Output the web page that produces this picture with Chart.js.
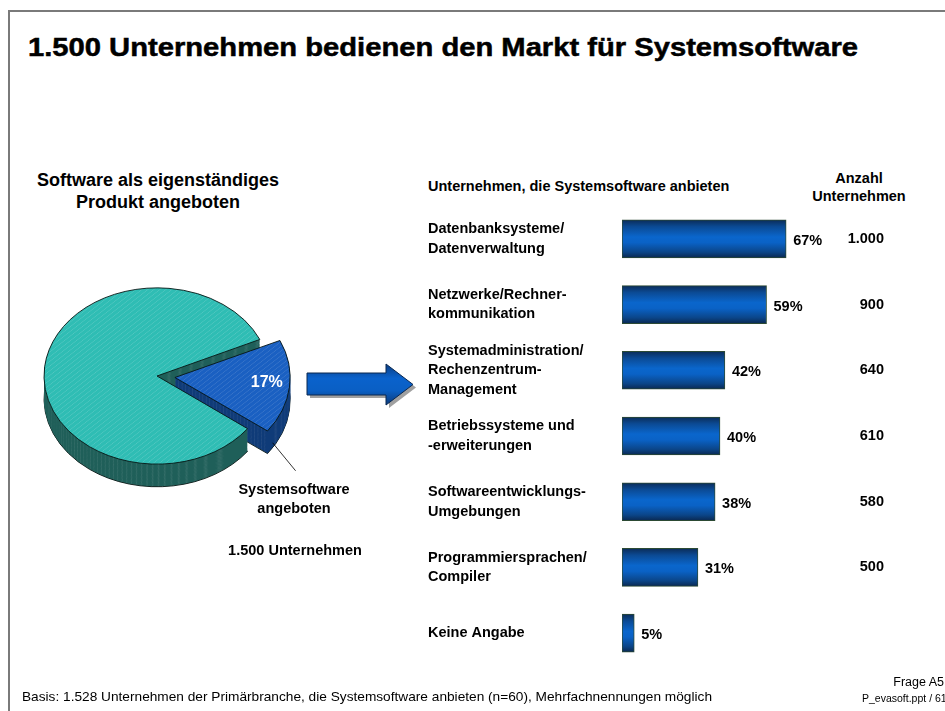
<!DOCTYPE html>
<html lang="de">
<head>
<meta charset="utf-8">
<title>Systemsoftware</title>
<script src="https://cdn.jsdelivr.net/npm/chart.js@4.4.1/dist/chart.umd.min.js"></script>
<style>
  html, body { margin: 0; padding: 0; background: #fff; }
  body { width: 945px; height: 711px; position: relative; overflow: hidden;
         font-family: "Liberation Sans", Arial, sans-serif; color: #000; }
  .frame { position: absolute; left: 8px; top: 10px; right: -10px; bottom: -10px;
           border-top: 2px solid #7a7a7a; border-left: 2px solid #7a7a7a; }
  .abs { position: absolute; white-space: nowrap; }
  #title { left: 28px; top: 32px; font-size: 26px; font-weight: bold; line-height: 30px;
           -webkit-text-stroke: 0.5px #000; transform-origin: left center; }
  #pieTitle { left: 0; width: 316px; top: 169px; text-align: center; font-size: 18px;
              font-weight: bold; line-height: 22px; }
  #barHead { left: 428px; top: 177px; font-size: 14.5px; font-weight: bold; line-height: 18px; }
  #countHead { left: 789px; width: 140px; top: 169px; text-align: center; font-size: 14.5px;
               font-weight: bold; line-height: 18px; }
  #footer { left: 22px; top: 689px; font-size: 13px; line-height: 16px; transform-origin: left center;
            font-family: "Liberation Sans Narrow", "Liberation Sans", Arial, sans-serif; }
  #frage { right: 1px; top: 675px; font-size: 12.5px; line-height: 15px; }
  #file { left: 862px; top: 692px; font-size: 10.5px; line-height: 12px;
          font-family: "Liberation Sans Narrow", "Liberation Sans", Arial, sans-serif; }
  #pieCanvasWrap { position: absolute; left: 7px; top: 226px; width: 400px; height: 350px; }
  #barCanvasWrap { position: absolute; left: 428px; top: 206px; width: 517px; height: 460px; }
  svg { position: absolute; left: 0; top: 0; }
</style>
</head>
<body>
<div class="frame"></div>
<div id="title" class="abs">1.500 Unternehmen bedienen den Markt für Systemsoftware</div>
<div id="pieTitle" class="abs">Software als eigenständiges<br>Produkt angeboten</div>
<div id="barHead" class="abs">Unternehmen, die Systemsoftware anbieten</div>
<div id="countHead" class="abs">Anzahl<br>Unternehmen</div>

<div id="pieCanvasWrap"><canvas id="pie"></canvas></div>
<div id="barCanvasWrap"><canvas id="bars"></canvas></div>

<svg width="945" height="711" viewBox="0 0 945 711">
  <defs>
    <linearGradient id="arrowGrad" x1="0" y1="0" x2="0" y2="1">
      <stop offset="0" stop-color="#0b3d82"/>
      <stop offset="0.35" stop-color="#0a62cc"/>
      <stop offset="0.65" stop-color="#0a5fc4"/>
      <stop offset="1" stop-color="#0b3a7a"/>
    </linearGradient>
  </defs>
  <path d="M310,376 L389,376 L389,367 L416,387.5 L389,408 L389,398 L310,398 Z" fill="#a0a0a0"/>
  <path d="M307,373 L386,373 L386,364 L413,384.5 L386,405 L386,395 L307,395 Z"
        fill="url(#arrowGrad)" stroke="#0a2850" stroke-width="1"/>
</svg>

<div id="footer" class="abs">Basis: 1.528 Unternehmen der Primärbranche, die Systemsoftware anbieten (n=60), Mehrfachnennungen möglich</div>
<div id="frage" class="abs">Frage A5</div>
<div id="file" class="abs">P_evasoft.ppt / 61</div>

<script>
// Daten
const pieLabels = ['', 'Systemsoftware angeboten'];
const pieValues = [83, 17];
const pieTotal = '1.500 Unternehmen';

const categories = [
  ['Datenbanksysteme/', 'Datenverwaltung'],
  ['Netzwerke/Rechner-', 'kommunikation'],
  ['Systemadministration/', 'Rechenzentrum-', 'Management'],
  ['Betriebssysteme und', '-erweiterungen'],
  ['Softwareentwicklungs-', 'Umgebungen'],
  ['Programmiersprachen/', 'Compiler'],
  ['Keine Angabe']
];
const shares = [67, 59, 42, 40, 38, 31, 5];
const counts = [1000, 900, 640, 610, 580, 500, null];

Chart.defaults.font.family = '"Liberation Sans", Arial, sans-serif';
Chart.defaults.color = '#000';

// Schrift auf Zielbreite bringen
function fitWidth(id, target) {
  const el = document.getElementById(id);
  const w = el.getBoundingClientRect().width;
  if (w > 0) el.style.transform = 'scaleX(' + (target / w) + ')';
}
fitWidth('title', 830);
fitWidth('footer', 690);

function formatCount(n) {
  if (n == null) return '';
  return String(n).replace(/\B(?=(\d{3})+(?!\d))/g, '.');
}

// Schraffur-Muster
function hatch(color, line) {
  const c = document.createElement('canvas');
  c.width = 6; c.height = 6;
  const x = c.getContext('2d');
  x.fillStyle = color;
  x.fillRect(0, 0, 6, 6);
  x.strokeStyle = line;
  x.lineWidth = 1;
  x.beginPath();
  x.moveTo(-1, 7); x.lineTo(7, -1);
  x.moveTo(-1, 1); x.lineTo(1, -1);
  x.moveTo(5, 7); x.lineTo(7, 5);
  x.stroke();
  return x.createPattern(c, 'repeat');
}

const tilt = 0.78;
const depth = 23;
const topColors = [hatch('#2fbdb4', 'rgba(255,255,255,0.16)'), hatch('#1a60c2', 'rgba(255,255,255,0.14)')];
const sideColors = [hatch('#1f5f59', 'rgba(255,255,255,0.12)'), hatch('#0f3b78', 'rgba(255,255,255,0.12)')];

// 3D-Torte: Neigung + Seitenflächen
const pie3d = {
  id: 'pie3d',
  beforeDatasetsDraw(chart) {
    const ctx = chart.ctx;
    const arcs = chart.getDatasetMeta(0).data;
    const cx = arcs[0].x, cy = arcs[0].y;
    ctx.save();
    ctx.translate(cx, cy);
    ctx.scale(1, tilt);
    ctx.translate(-cx, -cy);
    const steps = Math.round(depth / tilt);
    for (let d = steps; d > 0; d--) {
      arcs.forEach((arc, i) => {
        const fake = Object.create(arc);
        fake.options = Object.assign({}, arc.options, {
          backgroundColor: sideColors[i],
          borderColor: d === steps ? '#061412' : sideColors[i],
          borderWidth: d === steps ? 1 : 0
        });
        ctx.save();
        ctx.translate(0, d);
        arc.draw.call(fake, ctx);
        ctx.restore();
      });
    }
  },
  afterDatasetsDraw(chart) {
    chart.ctx.restore();
  },
  afterDraw(chart) {
    const ctx = chart.ctx;
    const arc = chart.getDatasetMeta(0).data[1];
    const mid = (arc.startAngle + arc.endAngle) / 2;
    const off = arc.options.offset / 4;
    const r = arc.outerRadius;
    const ox = arc.x + Math.cos(mid) * off;
    const oy = arc.y + Math.sin(mid) * off * tilt;
    ctx.save();
    // Prozentwert
    ctx.font = 'bold 16px "Liberation Sans", Arial, sans-serif';
    ctx.fillStyle = '#fff';
    ctx.textAlign = 'center';
    ctx.textBaseline = 'middle';
    ctx.fillText(pieValues[1] + '%', ox + Math.cos(mid) * r * 0.8 + 2, oy + Math.sin(mid) * r * 0.8 * tilt - 2);
    // Führungslinie
    const a = mid + 0.42;
    const sx = ox + Math.cos(a) * r;
    const sy = oy + Math.sin(a) * r * tilt + depth - 2;
    ctx.strokeStyle = '#000';
    ctx.lineWidth = 0.8;
    ctx.beginPath();
    ctx.moveTo(sx, sy);
    ctx.lineTo(sx + 23, sy + 28);
    ctx.stroke();
    // Beschriftung
    ctx.fillStyle = '#000';
    ctx.font = 'bold 14.5px "Liberation Sans", Arial, sans-serif';
    const words = pieLabels[1].split(' ');
    ctx.fillText(words[0], 287, 264);
    ctx.fillText(words[1], 287, 283);
    ctx.fillText(pieTotal, 288, 325);
    ctx.restore();
  }
};

new Chart(document.getElementById('pie'), {
  type: 'pie',
  data: {
    labels: pieLabels,
    datasets: [{
      data: pieValues,
      backgroundColor: topColors,
      borderColor: '#061412',
      borderWidth: 1,
      offset: [0, 72]
    }]
  },
  options: {
    responsive: true,
    maintainAspectRatio: false,
    animation: false,
    events: [],
    rotation: 126.7,
    radius: 113,
    layout: { padding: { right: 100, bottom: 50 } },
    plugins: { legend: { display: false }, tooltip: { enabled: false } }
  },
  plugins: [pie3d]
});

// Balken: Prozentwerte und Anzahl
const barLabels = {
  id: 'barLabels',
  afterDatasetsDraw(chart) {
    const ctx = chart.ctx;
    const meta = chart.getDatasetMeta(0);
    ctx.save();
    ctx.font = 'bold 14.5px "Liberation Sans", Arial, sans-serif';
    ctx.fillStyle = '#000';
    ctx.textBaseline = 'middle';
    meta.data.forEach((bar, i) => {
      ctx.textAlign = 'left';
      ctx.fillText(shares[i] + '%', bar.x + 7, bar.y + 2);
      ctx.textAlign = 'right';
      ctx.fillText(formatCount(counts[i]), 884 - 428, bar.y);
    });
    ctx.restore();
  }
};

function barGradient(c) {
  const chart = c.chart;
  const ys = chart.scales.y;
  if (!ys || c.dataIndex == null || !chart.chartArea) return '#0a62c8';
  const yc = ys.getPixelForValue(c.dataIndex);
  const g = chart.ctx.createLinearGradient(0, yc - 19, 0, yc + 19);
  g.addColorStop(0, '#0b2c58');
  g.addColorStop(0.18, '#0b4a94');
  g.addColorStop(0.45, '#0a66cc');
  g.addColorStop(0.6, '#0a62c6');
  g.addColorStop(0.85, '#0b4588');
  g.addColorStop(1, '#0a2850');
  return g;
}

new Chart(document.getElementById('bars'), {
  type: 'bar',
  data: {
    labels: categories,
    datasets: [{
      data: shares,
      backgroundColor: barGradient,
      borderColor: '#2c4a34',
      borderWidth: 1,
      borderSkipped: false,
      barThickness: 38
    }]
  },
  options: {
    indexAxis: 'y',
    responsive: true,
    maintainAspectRatio: false,
    animation: false,
    events: [],
    layout: { padding: { right: 78 } },
    scales: {
      x: { display: false, min: 0, max: 100 },
      y: {
        grid: { display: false },
        border: { display: false },
        afterFit(scale) {
          scale.width = 194;
          scale.paddingTop = 0;
          scale.paddingBottom = 0;
        },
        ticks: {
          crossAlign: 'far',
          color: '#000',
          font: { size: 14.5, weight: 'bold', lineHeight: 1.35 }
        }
      }
    },
    plugins: { legend: { display: false }, tooltip: { enabled: false } }
  },
  plugins: [barLabels]
});
</script>
</body>
</html>
